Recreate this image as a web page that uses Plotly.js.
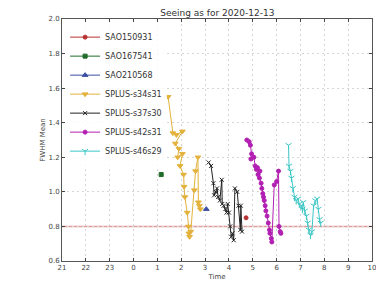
<!DOCTYPE html>
<html>
<head>
<meta charset="utf-8">
<script src="https://cdn.plot.ly/plotly-3.0.1.min.js"></script>
<style>html,body{margin:0;padding:0;background:#fff}#chart{width:376px;height:282px}</style>
</head>
<body>
<div id="chart"></div>
<script>
// Time in hours relative to midnight of 2020-12-13 (negative = previous evening)
const tickVals = [-3,-2,-1,0,1,2,3,4,5,6,7,8,9,10];
const tickText = ["21","22","23","0","1","2","3","4","5","6","7","8","9","10"];
const threshold = 0.8;

const sao150931_t = [4.72];
const sao150931_f = [0.85];

const sao167541_t = [1.16];
const sao167541_f = [1.10];

const sao210568_t = [3.05];
const sao210568_f = [0.90];

const s34s31_t = [1.45,1.65,1.80,2.05,1.75,1.90,1.85,2.05,1.95,2.10,2.12,2.15,2.25,2.30,2.32,2.35,2.40,2.55,2.60,2.70,2.72,2.80,2.76];
const s34s31_f = [1.55,1.34,1.33,1.35,1.28,1.25,1.20,1.22,1.15,1.10,1.03,0.97,0.88,0.80,0.76,0.74,0.77,1.01,1.12,1.20,0.94,0.90,0.92];

const s37s30_t = [3.15,3.25,3.35,3.38,3.45,3.50,3.55,3.62,3.70,3.72,3.78,3.85,3.90,3.95,4.00,4.05,4.10,4.15,4.20,4.25,4.35,4.40,4.48,4.50,4.55];
const s37s30_f = [1.17,1.15,1.05,0.98,1.00,1.02,0.97,0.95,1.07,0.93,0.92,0.90,0.88,0.93,0.88,0.80,0.74,0.76,0.72,1.02,1.00,0.92,0.78,0.92,0.77];

const s42s31_t = [4.75,4.85,4.90,4.95,4.92,5.05,5.10,5.15,5.20,5.22,5.30,5.28,5.35,5.38,5.42,5.45,5.48,5.52,5.55,5.60,5.65,5.70,5.72,5.78,5.80,5.90,6.00,6.08,6.10,6.15,6.18];
const s42s31_f = [1.30,1.29,1.27,1.22,1.19,1.20,1.15,1.13,1.14,1.10,1.12,1.08,1.05,1.02,0.99,0.97,0.95,0.92,0.89,0.86,0.82,0.78,0.76,0.73,0.71,1.04,1.06,1.12,0.80,0.77,0.76];

const s46s29_t = [6.50,6.52,6.58,6.62,6.68,6.75,6.82,6.90,6.95,7.02,7.08,7.12,7.18,7.25,7.30,7.35,7.42,7.48,7.55,7.62,7.70,7.75,7.80,7.85];
const s46s29_f = [1.27,1.15,1.12,1.08,1.02,0.97,0.95,0.96,0.93,0.92,0.90,0.94,0.89,0.86,0.82,0.78,0.75,0.77,0.92,0.95,0.96,0.90,0.84,0.82];

const seriesNames = ["SAO150931","SAO167541","SAO210568","SPLUS-s34s31","SPLUS-s37s30","SPLUS-s42s31","SPLUS-s46s29"];
const seriesT = [sao150931_t,sao167541_t,sao210568_t,s34s31_t,s37s30_t,s42s31_t,s46s29_t];
const seriesF = [sao150931_f,sao167541_f,sao210568_f,s34s31_f,s37s30_f,s42s31_f,s46s29_f];
const colors = ["#b83232","#1f6b2a","#3a4fa0","#e3b23c","#222222","#b21fb2","#3cc6c6"];
const symbols = ["circle","square","triangle-up","triangle-down","x-thin-open","circle","y-down-open"];
const msizes = [4,4,5,5,4,4,5];

const traces = seriesNames.map((n,i)=>({
  type:"scatter", mode:"lines+markers", name:n,
  x:seriesT[i], y:seriesF[i],
  line:{color:colors[i], width:1},
  marker:{color:colors[i], symbol:symbols[i], size:msizes[i], line:{color:colors[i], width:1}}
}));

const font = {family:"DejaVu Sans, sans-serif", size:7, color:"#444"};
const gridStyle = {showgrid:true, gridcolor:"#d6d6d6", griddash:"2px,3px", gridwidth:1, zeroline:false};
const layout = {
  width:376, height:282,
  margin:{l:62, r:4, t:19, b:21},
  paper_bgcolor:"#fff", plot_bgcolor:"#fff",
  font:font,
  title:{text:"Seeing as for 2020-12-13", font:{family:"DejaVu Sans, sans-serif", size:9, color:"#333"}, x:0.578, xanchor:"center", y:0.955, yanchor:"middle"},
  xaxis:Object.assign({range:[-3,10], tickvals:tickVals, ticktext:tickText, ticks:"inside", ticklen:3, tickcolor:"#444",
    showline:true, mirror:"ticks", linecolor:"#555", linewidth:1, ticklabeloverflow:"allow",
    automargin:false,
    title:{text:"Time", font:{size:7, color:"#444"}, standoff:2}}, gridStyle),
  yaxis:Object.assign({range:[0.6,2.0], dtick:0.2, tickformat:".1f", ticks:"inside", ticklen:3, tickcolor:"#444",
    showline:true, mirror:"ticks", linecolor:"#555", linewidth:1, ticklabeloverflow:"allow",
    automargin:false,
    title:{text:"FWHM Mean", font:{size:7, color:"#444"}, standoff:2}}, gridStyle),
  legend:{x:0.01, y:0.985, xanchor:"left", yanchor:"top", bgcolor:"rgba(255,255,255,0.85)",
    font:{family:"DejaVu Sans, sans-serif", size:8, color:"#333"}, itemwidth:30, tracegroupgap:0},
  shapes:[{type:"line", xref:"paper", x0:0, x1:1, yref:"y", y0:threshold, y1:threshold,
    line:{color:"#e39a9a", width:1.5}, layer:"below"}],
  showlegend:true
};

Plotly.newPlot("chart", traces, layout, {displayModeBar:false, staticPlot:true});
</script>
</body>
</html>
